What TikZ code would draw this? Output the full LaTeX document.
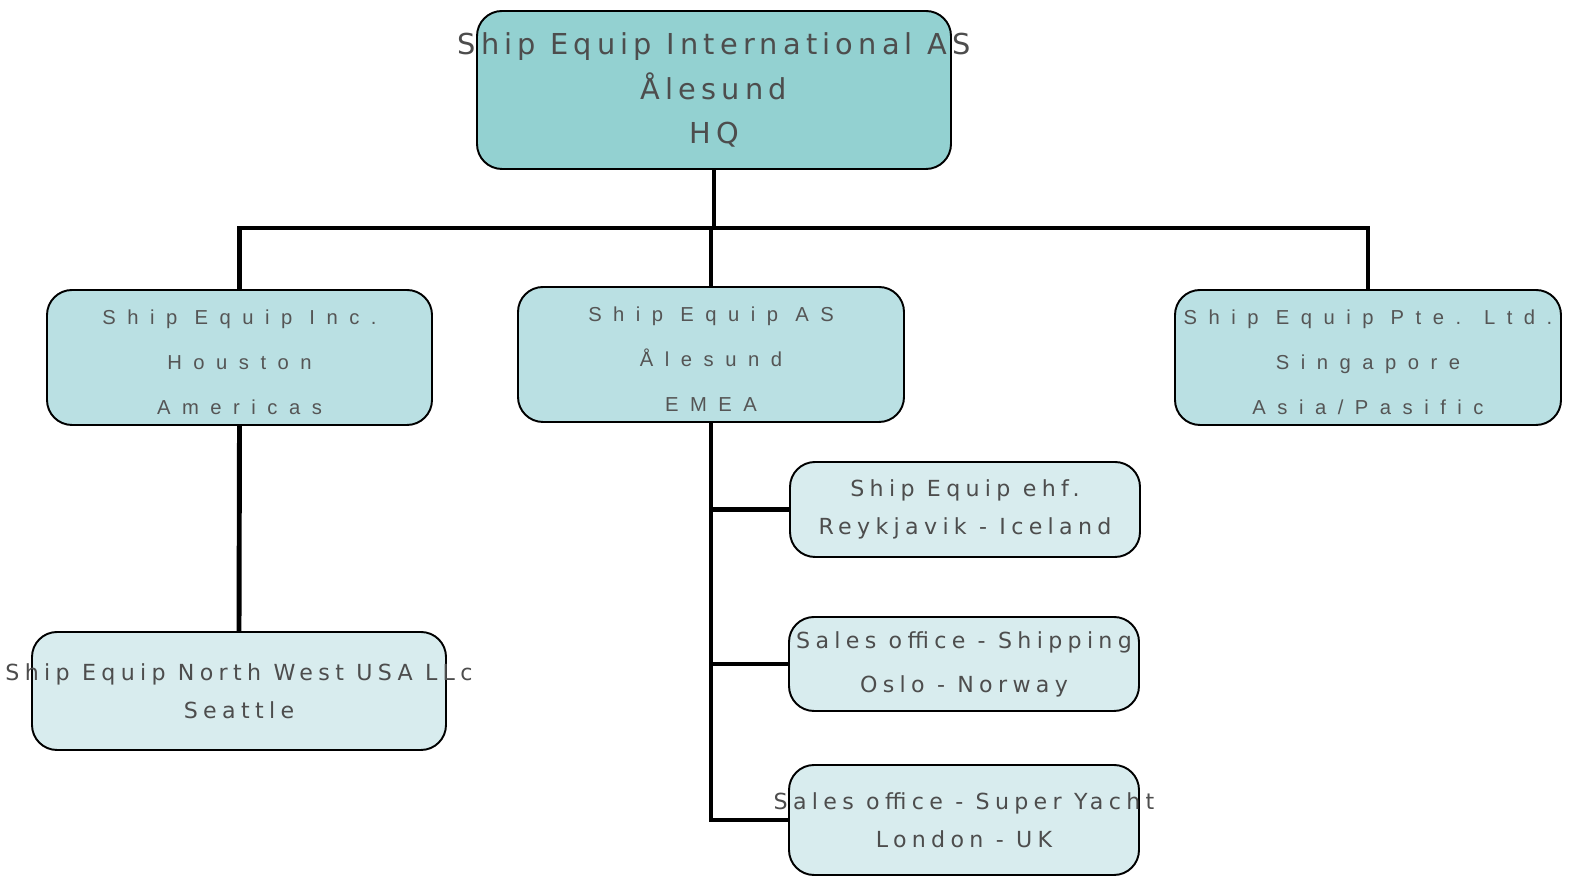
\documentclass[tikz,border=0pt]{standalone}
\usepackage{fontspec}
\usepackage{xcolor}
\usepackage{tikz}
\newfontfamily\hqfont[LetterSpace=18]{DejaVu Sans}
\newfontfamily\lowfont[LetterSpace=24]{DejaVu Sans}
\newfontfamily\midfont[LetterSpace=57]{Liberation Sans}
\definecolor{hqfill}{RGB}{147,209,209}
\definecolor{midfill}{RGB}{186,224,227}
\definecolor{lowfill}{RGB}{216,236,238}
\definecolor{txtgray}{RGB}{77,77,77}
\definecolor{midgray}{RGB}{85,85,85}
\newcommand{\olap}[1]{\makebox[0pt]{#1}}
\newcommand{\toplap}[1]{\makebox[0pt]{\rule{0pt}{14pt}#1}}

\begin{document}
\begin{tikzpicture}[
		unit/.style={draw=black, line width=1.1pt, rounded corners=0.5cm, align=center, inner sep=0pt},
		hqbox/.style={unit, fill=hqfill, text=txtgray, minimum width=9.48cm, minimum height=3.16cm, font=\hqfont\fontsize{16.4}{25.5}\selectfont},
		midbox/.style={unit, fill=midfill, text=midgray, minimum width=7.72cm, minimum height=2.70cm, font=\midfont\fontsize{11.5}{25.5}\selectfont},
		lowbox/.style={unit, fill=lowfill, text=txtgray, minimum width=7.00cm, minimum height=1.90cm, font=\lowfont\fontsize{12.6}{21.5}\selectfont},
		conn/.style={line width=2.8pt}]
		\useasboundingbox (0,0) rectangle (31.92,17.64);
		\coordinate (bus) at (0,13.08);
		%
		\node[hqbox] (HQ) at (14.28,15.84) {\olap{Ship Equip International AS}\\ \olap{Ålesund}\\ \olap{HQ}};
		\node[midbox, minimum width=7.70cm] (US) at (4.79,10.49) {\toplap{Ship Equip Inc.}\\ \olap{Houston}\\ \olap{Americas}};
		\node[midbox] (NO) at (14.22,10.55) {\toplap{Ship Equip AS}\\ \olap{Ålesund}\\ \olap{EMEA}};
		\node[midbox] (SG) at (27.36,10.49) {\toplap{Ship Equip Pte. Ltd.}\\ \olap{Singapore}\\ \olap{Asia/Pasific}};
		\node[lowbox, minimum width=8.28cm, minimum height=2.36cm] (NW) at (4.78,3.82) {\olap{Ship Equip North West USA LLc}\\ \olap{Seattle}};
		\node[lowbox] (IS) at (19.30,7.45) {\olap{Ship Equip ehf.}\\ \olap{Reykjavik - Iceland}};
		\node[lowbox, minimum height=1.88cm] (OS) at (19.28,4.36) {\olap{Sales office - Shipping}\\[3.5pt] \olap{Oslo - Norway}};
		\node[lowbox, minimum height=2.20cm] (UK) at (19.28,1.24) {\olap{Sales office - Super Yacht}\\ \olap{London - UK}};
		%
		\draw[conn] (HQ.south) -- (HQ.south |- bus);
		\draw[conn] (US.north) -- (US.north |- bus) -- (SG.north |- bus) -- (SG.north);
		\draw[conn] (NO.north) -- (NO.north |- bus);
		\draw[conn] (US.south) -- (NW.north);
		\draw[conn] (NO.south) |- (UK.west);
		\draw[conn] (NO.south |- IS.west) -- (IS.west);
		\draw[conn] (NO.south |- OS.west) -- (OS.west);
\end{tikzpicture}
\end{document}
